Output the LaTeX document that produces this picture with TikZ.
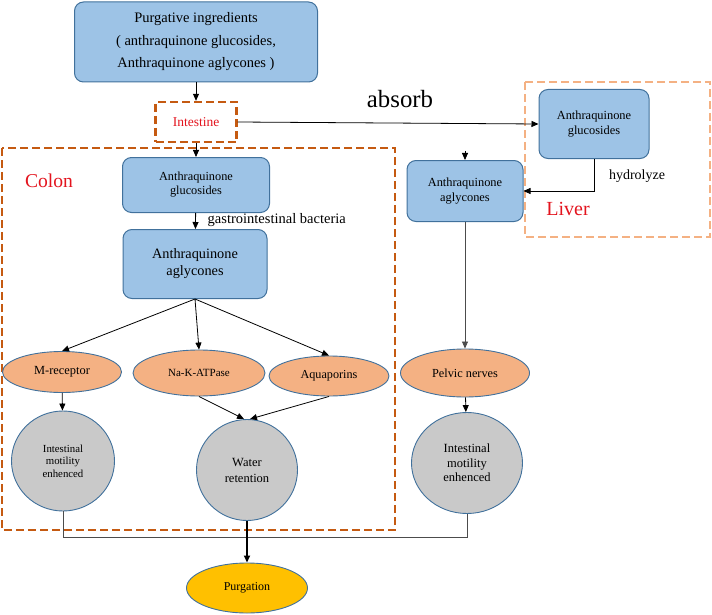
\documentclass[tikz,border=0pt]{standalone}
\usepackage{fontspec}
\setmainfont{Liberation Serif}
\usetikzlibrary{arrows.meta,shapes.geometric}

\definecolor{boxblue}{HTML}{9DC3E6}
\definecolor{boxline}{HTML}{41719C}
\definecolor{peach}{HTML}{F4B183}
\definecolor{greyfill}{HTML}{C9C9C9}
\definecolor{gold}{HTML}{FFC000}
\definecolor{colonline}{HTML}{C55A11}
\definecolor{liverline}{HTML}{F4B183}
\definecolor{labelred}{HTML}{E3141E}

\newcommand{\txtsize}[2]{\fontsize{#1}{#2}\selectfont}

\tikzset{
  box/.style={draw=boxline, fill=boxblue, rounded corners=9pt, line width=1pt, align=center, inner sep=0pt},
  oval/.style={ellipse, draw=boxline, fill=peach, line width=0.9pt, inner sep=0pt},
  effect/.style={ellipse, draw=boxline, fill=greyfill, line width=0.9pt, align=center, inner sep=0pt},
  region/.style={dash pattern=on 8pt off 4pt, line width=2.4pt},
}

\begin{document}
\begin{tikzpicture}[x=1pt, y=-1pt, >={Triangle[length=7pt,width=6pt]}, line width=0.8pt]
    \useasboundingbox (0,0) rectangle (712,615);

    % regions
    \draw[region, draw=colonline] (2,148) rectangle (395,530);
    \draw[region, draw=liverline, line width=2pt] (525,82) rectangle (710,237);
    \node[text=labelred, font=\txtsize{19.6}{22}] (colon) at (49,181) {Colon};
    \node[text=labelred, font=\txtsize{20}{22}] (liver) at (568,209) {Liver};

    % top
    \node[box, minimum width=243pt, minimum height=80pt, font=\txtsize{14.5}{22.5}] (purg) at (196,42)
        {Purgative ingredients\\( anthraquinone glucosides,\\Anthraquinone aglycones )};
    \node[draw=colonline, region, minimum width=81pt, minimum height=40pt, text=labelred, font=\txtsize{13.5}{16}] (intest) at (196,122) {Intestine};
    \node[font=\txtsize{24.8}{26}] (absorb) at (400,99) {absorb};

    % colon
    \node[box, minimum width=147pt, minimum height=55pt, font=\txtsize{12.3}{14}] (gluc) at (196,185) {Anthraquinone\\glucosides};
    \node[box, minimum width=144pt, minimum height=69pt, font=\txtsize{14.3}{17}] (agly) at (195,264) {Anthraquinone\\aglycones};
    \node[anchor=west, font=\txtsize{14.5}{16}] (bact) at (204,220) {gastrointestinal bacteria};
    \node[oval, minimum width=119pt, minimum height=41pt, font=\txtsize{12.4}{14}] (mrec) at (62,372) {M-receptor};
    \node[oval, minimum width=132pt, minimum height=46pt, font=\txtsize{11}{13}] (nak) at (199,373) {Na-K-ATPase};
    \node[oval, minimum width=120pt, minimum height=40pt, font=\txtsize{12.2}{14}] (aqua) at (329,376) {Aquaporins};
    \node[effect, minimum width=103pt, minimum height=100pt, font=\txtsize{10.8}{12.4}] (motil) at (63,461) {Intestinal\\motility\\enhenced};
    \node[effect, minimum width=101pt, minimum height=101pt, font=\txtsize{12.5}{16}] (water) at (247,470) {Water\\retention};

    % liver
    \node[box, minimum width=110pt, minimum height=69pt, font=\txtsize{12.4}{15}] (lgluc) at (594,124) {Anthraquinone\\glucosides};
    \node[font=\txtsize{14}{16}] (hydro) at (637,176) {hydrolyze};
    \node[box, minimum width=116pt, minimum height=61pt, font=\txtsize{12.4}{15}] (lagly) at (465,191) {Anthraquinone\\aglycones};
    \node[oval, minimum width=129pt, minimum height=48pt, font=\txtsize{12.3}{14}] (pelvic) at (465,373) {Pelvic nerves};
    \node[effect, minimum width=111pt, minimum height=101pt, font=\txtsize{12.5}{14.5}] (motil2) at (467,463) {Intestinal\\motility\\enhenced};

    % result
    \node[ellipse, draw=boxline, fill=gold, line width=0.9pt, inner sep=0pt, minimum width=121pt, minimum height=50pt, font=\txtsize{12}{14}] (purgation) at (247,588) {Purgation};

    \coordinate (stub) at (465,151);

    \draw[->] (purg) -- (intest);
    \draw[->] (intest) -- (gluc);
    \draw[->] (intest.east) -- (lgluc.west);
    \draw[->] (gluc) -- (agly);
    \draw[->] (agly.south) -- (mrec.north);
    \draw[->] (agly.south) -- (nak.north);
    \draw[->] (agly.south) -- (aqua.north);
    \draw[->] (mrec) -- (motil);
    \draw[->] (nak.south) -- ([xshift=-3pt]water.north);
    \draw[->] (aqua.south) -- ([xshift=3pt]water.north);
    \draw[->] (lgluc.south) |- (lagly.east);
    \draw[->] (stub) -- (lagly.north);
    \draw[->, black!70] (lagly) -- (pelvic);
    \draw[->] (pelvic) -- (motil2);
    \draw[black!70] (motil.south) -- ++(0,26) -| (motil2.south);
    \draw[->, line width=1.6pt] (water) -- (purgation);
\end{tikzpicture}
\end{document}
